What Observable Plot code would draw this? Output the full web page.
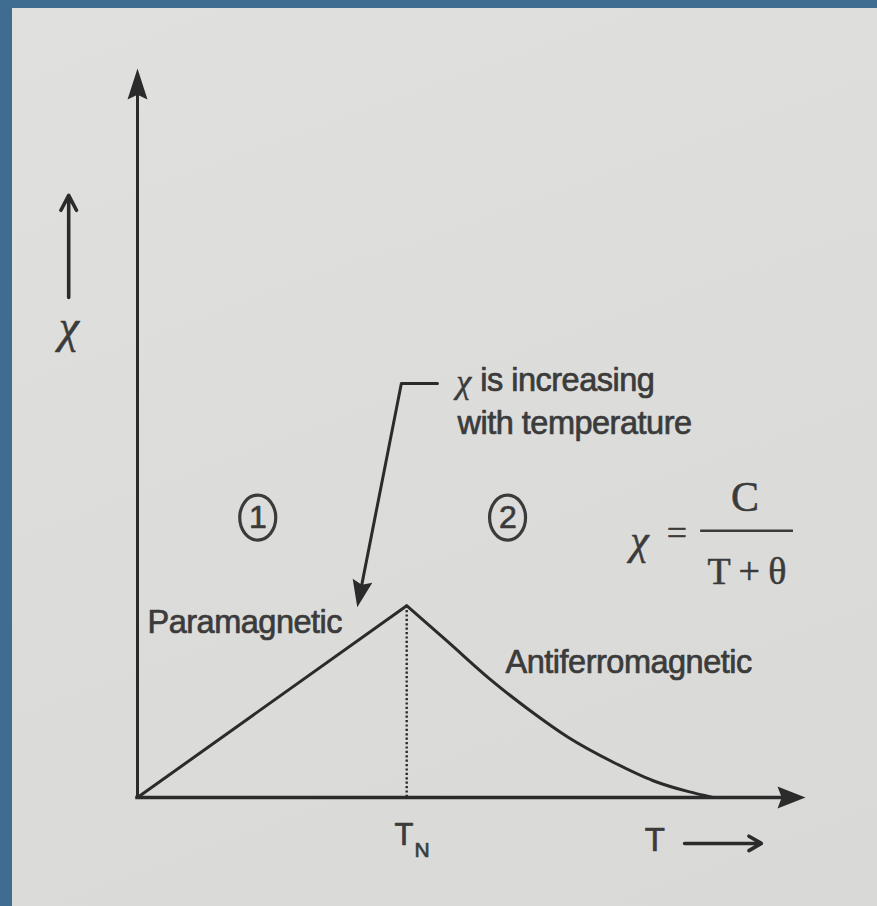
<!DOCTYPE html>
<html>
<head>
<meta charset="utf-8">
<script src="https://cdn.jsdelivr.net/npm/d3@7"></script>
<script src="https://cdn.jsdelivr.net/npm/@observablehq/plot@0.6"></script>
<style>
html, body { margin: 0; padding: 0; overflow: hidden; width: 877px; height: 906px; background: #3f6d92; }
#paper { position: absolute; left: 12px; top: 8px; right: 0; bottom: 0;
  background: linear-gradient(160deg, #e0e0de 0%, #dcdcda 50%, #d9d9d7 100%); }
#chart { position: absolute; left: 0; top: 0; }
</style>
</head>
<body>
<div id="paper"></div>
<div id="chart"></div>
<script>
// ---- data (arbitrary units) ----
const T_N = 40.3;            // Néel temperature position
const chiPeak = 26.3;        // χ at T_N
const paraT = [0, T_N];
const paraChi = [0, chiPeak];
const afmT = [40.3, 46.4, 52.8, 58.8, 64.4, 71.3, 77.2, 82.5, 86.0];
const afmChi = [26.3, 21.4, 16.2, 11.9, 8.3, 4.8, 2.3, 0.8, 0.05];
// leader line of the note
const noteT = [44.9, 39.5, 33.3];
const noteChi = [56.8, 56.8, 27.9];
const noteTip = [32.9, 26.1];

// ---- text ----
const regionLabels = ["Paramagnetic", "Antiferromagnetic"];
const regionNumbers = ["1", "2"];
const noteLines = ["is increasing", "with temperature"];
const formulaParts = ["χ", "=", "C", "T + θ"];
const axisLabels = ["χ", "T"];
const tickLabel = ["T", "N"];

// ---- scales ----
const xDomain = [0, 100], xRange = [137, 805];
const yDomain = [0, 100], yRange = [797, 68];
const sx = d3.scaleLinear(xDomain, xRange);
const sy = d3.scaleLinear(yDomain, yRange);

const ink = "#2b2b2b";
const textInk = "#3b3b3b";
const sans = "'Liberation Sans', Arial, sans-serif";
const serif = "'Liberation Serif', 'Times New Roman', serif";

// filled arrowhead symbol: tip at the origin, pointing at angle (deg, screen coords)
function head(angle, len, hw) {
  const a = angle * Math.PI / 180, ux = Math.cos(a), uy = Math.sin(a), px = -uy, py = ux;
  return {draw(ctx) {
    ctx.moveTo(0, 0);
    ctx.lineTo(-ux * len + px * hw, -uy * len + py * hw);
    ctx.lineTo(-ux * len * 0.85, -uy * len * 0.85);
    ctx.lineTo(-ux * len - px * hw, -uy * len - py * hw);
    ctx.closePath();
  }};
}
function ellipse(rx, ry) {
  const k = 0.5523;
  return {draw(ctx) {
    ctx.moveTo(rx, 0);
    ctx.bezierCurveTo(rx, ry * k, rx * k, ry, 0, ry);
    ctx.bezierCurveTo(-rx * k, ry, -rx, ry * k, -rx, 0);
    ctx.bezierCurveTo(-rx, -ry * k, -rx * k, -ry, 0, -ry);
    ctx.bezierCurveTo(rx * k, -ry, rx, -ry * k, rx, 0);
    ctx.closePath();
  }};
}
const noteAngle = Math.atan2(sy(noteTip[1]) - sy(noteChi[1]), sx(noteTip[0]) - sx(noteT[1])) * 180 / Math.PI;

const para = paraT.map((T, i) => ({T, chi: paraChi[i]}));
const afm = afmT.map((T, i) => ({T, chi: afmChi[i]}));
const note = noteT.map((T, i) => ({T, chi: noteChi[i]}));

const txt = (s, o) => Plot.text([s], {text: d => d, fill: textInk, stroke: textInk, strokeWidth: 0.7,
  fontFamily: sans, fontSize: 32.5, lineAnchor: "middle", ...o});
const stxt = (s, o) => Plot.text([s], {text: d => d, fill: textInk, stroke: textInk, strokeWidth: 0.5,
  fontFamily: serif, lineAnchor: "middle", ...o});

const chart = Plot.plot({
  width: 877,
  height: 906,
  x: {domain: xDomain, range: xRange, axis: null},
  y: {domain: yDomain, range: yRange, axis: null},
  style: {background: "transparent", letterSpacing: "-0.5px"},
  marks: [
    // axes
    Plot.ruleX([0], {y1: 0, y2: 97, stroke: ink, strokeWidth: 3, strokeLinecap: "square"}),
    Plot.ruleY([0], {x1: 0, x2: 98, stroke: ink, strokeWidth: 3.6, strokeLinecap: "square"}),
    Plot.dot([[0, 100]], {x: d => d[0], y: d => d[1], symbol: head(-90, 31, 10), fill: ink, stroke: "none", r: 10}),
    Plot.dot([[100, 0]], {x: d => d[0], y: d => d[1], symbol: head(0, 28, 11), fill: ink, stroke: "none", r: 10}),
    // T_N dotted line
    Plot.ruleX([T_N], {y1: 0, y2: chiPeak, stroke: ink, strokeWidth: 2.4, strokeDasharray: "2.2,2.2"}),
    // curves
    Plot.line(para, {x: "T", y: "chi", stroke: ink, strokeWidth: 3}),
    Plot.line(afm, {x: "T", y: "chi", stroke: ink, strokeWidth: 3, curve: "monotone-x"}),
    // note leader
    Plot.line(note, {x: "T", y: "chi", stroke: ink, strokeWidth: 3}),
    Plot.dot([noteTip], {x: d => d[0], y: d => d[1], symbol: head(noteAngle, 27, 10), fill: ink, stroke: "none", r: 10}),
    // region circles
    Plot.dot([[18.0, 38.4], [55.4, 38.4]], {x: d => d[0], y: d => d[1], symbol: ellipse(18, 22.5), fill: "none", stroke: textInk, strokeWidth: 3.2, r: 10}),
    Plot.text(regionNumbers, {x: (d, i) => [18.0, 55.4][i], y: 38.4, text: d => d, fill: textInk, stroke: textInk, strokeWidth: 0.7,
      fontFamily: sans, fontSize: 32, lineAnchor: "middle"}),
    // labels
    txt(regionLabels[0], {x: 1.5, y: 24.0, textAnchor: "start"}),
    txt(regionLabels[1], {x: 55.1, y: 18.5, textAnchor: "start"}),
    stxt(formulaParts[0], {x: 48.8, y: 57.0, fontStyle: "italic", fontSize: 34}),
    txt(noteLines[0], {x: 51.3, y: 57.2, textAnchor: "start"}),
    txt(noteLines[1], {x: 47.9, y: 51.3, textAnchor: "start"}),
    // formula
    stxt(formulaParts[0], {x: 75.1, y: 35.3, fontStyle: "italic", fontSize: 42}),
    stxt(formulaParts[1], {x: 80.7, y: 36.2, fontSize: 36}),
    Plot.ruleY([36.6], {x1: 84.3, x2: 98.2, stroke: textInk, strokeWidth: 2.6}),
    stxt(formulaParts[2], {x: 90.9, y: 41.2, fontSize: 42}),
    stxt(formulaParts[3], {x: 91.2, y: 30.9, fontSize: 38}),
    // axis labels
    Plot.arrow([[-10.3, 68.6, -10.3, 82.6]], {x1: d => d[0], y1: d => d[1], x2: d => d[2], y2: d => d[3], stroke: ink, strokeWidth: 3.6, headLength: 7, headAngle: 55}),
    stxt(axisLabels[0], {x: -10.3, y: 64.5, fontStyle: "italic", fontSize: 46}),
    txt(axisLabels[1], {x: 77.4, y: -5.9, fontSize: 33}),
    Plot.arrow([[81.9, -6.3, 93.4, -6.3]], {x1: d => d[0], y1: d => d[1], x2: d => d[2], y2: d => d[3], stroke: ink, strokeWidth: 3.6, headLength: 6, headAngle: 60}),
    // T_N tick label
    txt(tickLabel[0], {x: T_N, y: -5.2, dx: -3, fontSize: 31}),
    txt(tickLabel[1], {x: T_N, y: -5.2, dx: 15, dy: 15, fontSize: 21})
  ]
});
document.getElementById("chart").appendChild(chart);
</script>
</body>
</html>
